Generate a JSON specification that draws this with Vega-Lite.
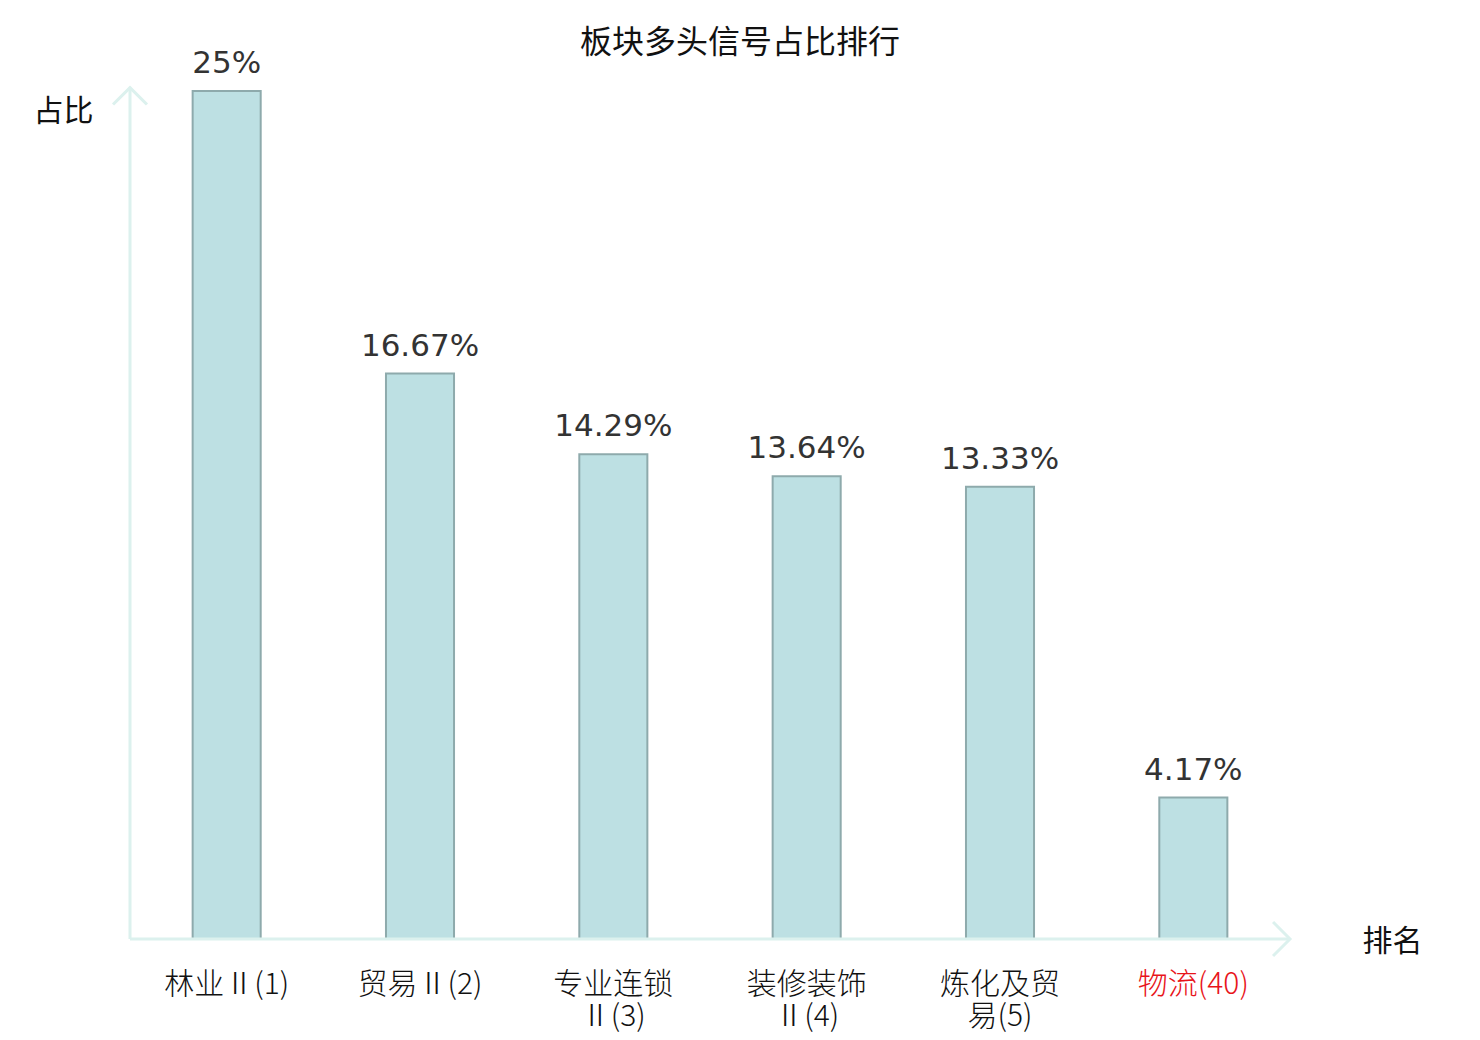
{
  "$schema": "https://vega.github.io/schema/vega-lite/v6.json",
  "width": 1160,
  "height": 848,
  "autosize": "none",
  "padding": {"left": 130, "top": 91, "right": 190, "bottom": 101},
  "background": "white",
  "title": {
    "text": "板块多头信号占比排行",
    "font": "Noto Sans CJK SC",
    "fontSize": 32,
    "fontWeight": "normal",
    "color": "#111111",
    "frame": "group",
    "anchor": "middle",
    "offset": -12,
    "dx": 30
  },
  "config": {
    "view": {"stroke": null},
    "axis": {
      "titleFont": "Noto Sans CJK SC",
      "titleFontSize": 30,
      "titleFontWeight": "normal",
      "titleColor": "#111111",
      "labelFont": "Noto Sans CJK SC",
      "labelFontSize": 30,
      "labelFontWeight": 300,
      "grid": false,
      "ticks": false,
      "domain": false
    }
  },
  "layer": [
    {
      "data": {
        "values": [
          {"name": "林业Ⅱ(1)", "value": 0.25},
          {"name": "贸易Ⅱ(2)", "value": 0.1667},
          {"name": "专业连锁Ⅱ(3)", "value": 0.1429},
          {"name": "装修装饰Ⅱ(4)", "value": 0.1364},
          {"name": "炼化及贸易(5)", "value": 0.1333},
          {"name": "物流(40)", "value": 0.0417}
        ]
      },
      "encoding": {
        "x": {
          "field": "name",
          "type": "nominal",
          "sort": null,
          "scale": {"paddingInner": 0.648, "paddingOuter": 0.324},
          "axis": {
            "title": "排名",
            "titleX": 1262,
            "titleY": 2,
            "titleAlign": "center",
            "titleBaseline": "middle",
            "labelAngle": 0,
            "labelPadding": 30,
            "labelLineHeight": 32,
            "labelBaseline": "top",
            "labelColor": {
              "condition": {"test": "datum.value == '物流(40)'", "value": "#e8141a"},
              "value": "#111111"
            },
            "labelExpr": "length(datum.label) > 7 ? [substring(datum.label, 0, 4), substring(datum.label, 4)] : datum.label"
          }
        },
        "y": {
          "field": "value",
          "type": "quantitative",
          "scale": {"domain": [0, 0.25], "nice": false},
          "axis": {
            "title": "占比",
            "labels": false,
            "titleAngle": 0,
            "titleX": -67,
            "titleY": 20,
            "titleAlign": "center",
            "titleBaseline": "middle"
          }
        }
      },
      "layer": [
        {
          "mark": {"type": "bar", "fill": "#bde0e3", "stroke": "#8eaaac", "strokeWidth": 2}
        },
        {
          "mark": {
            "type": "text",
            "font": "DejaVu Sans",
            "fontSize": 31,
            "color": "#333333",
            "baseline": "alphabetic",
            "dy": -18
          },
          "encoding": {
            "text": {"field": "value", "type": "quantitative", "format": ".2~%"}
          }
        }
      ]
    },
    {
      "data": {"values": [{"start": 0, "end": 6, "base": 0, "top": 0.251}]},
      "layer": [
        {
          "mark": {"type": "rule", "color": "#dcf1ee", "strokeWidth": 3},
          "encoding": {
            "x": {"field": "start", "type": "quantitative", "scale": {"domain": [0, 6], "nice": false}, "axis": null},
            "x2": {"field": "end"},
            "y": {"field": "base", "type": "quantitative"}
          }
        },
        {
          "mark": {"type": "rule", "color": "#dcf1ee", "strokeWidth": 3},
          "encoding": {
            "x": {"field": "start", "type": "quantitative"},
            "y": {"field": "base", "type": "quantitative"},
            "y2": {"field": "top"}
          }
        },
        {
          "mark": {
            "type": "point",
            "shape": "M-1,1L0,0L1,1",
            "filled": false,
            "stroke": "#dcf1ee",
            "strokeWidth": 3,
            "size": 1150,
            "opacity": 1
          },
          "encoding": {
            "x": {"field": "start", "type": "quantitative"},
            "y": {"field": "top", "type": "quantitative"}
          }
        },
        {
          "mark": {
            "type": "point",
            "shape": "M-1,-1L0,0L-1,1",
            "filled": false,
            "stroke": "#dcf1ee",
            "strokeWidth": 3,
            "size": 1150,
            "opacity": 1
          },
          "encoding": {
            "x": {"field": "end", "type": "quantitative"},
            "y": {"field": "base", "type": "quantitative"}
          }
        }
      ]
    }
  ],
  "resolve": {"scale": {"x": "independent"}, "axis": {"x": "independent"}}
}
